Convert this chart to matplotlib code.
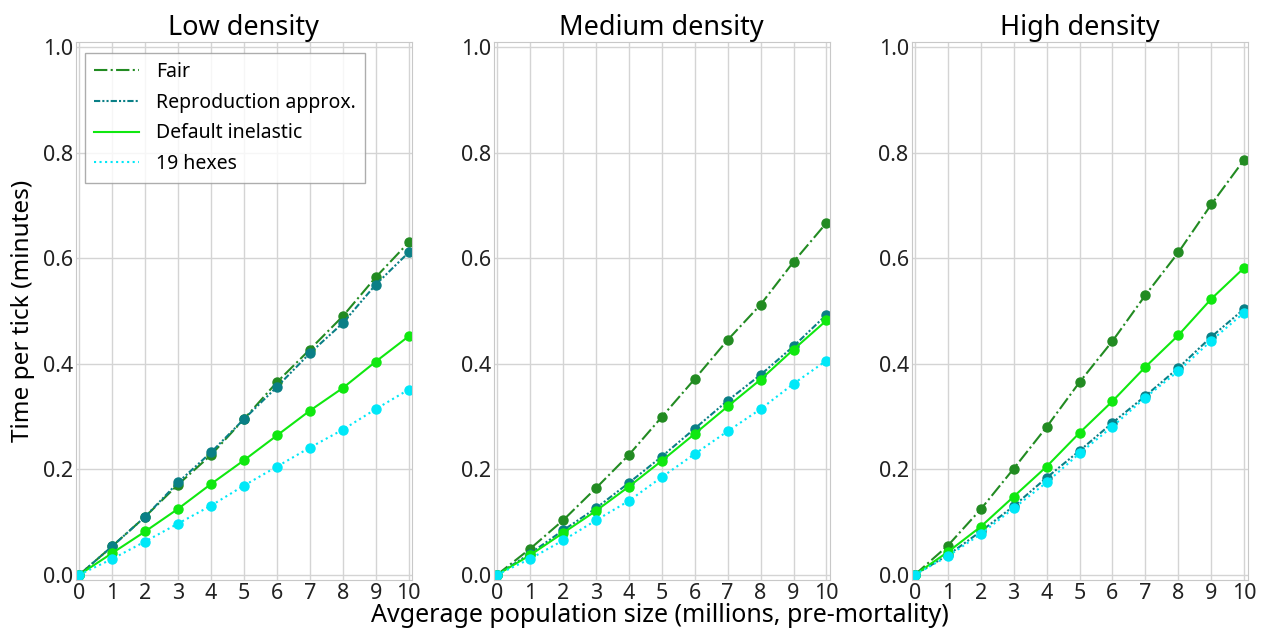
import matplotlib
matplotlib.use("Agg")
import matplotlib.pyplot as plt
from matplotlib.lines import Line2D
import numpy as np

plt.rcParams["font.family"] = ["Noto Sans", "DejaVu Sans"]

# population size (millions, pre-mortality)
pop = np.arange(0, 11)

panels = ["Low density", "Medium density", "High density"]
series = ["Fair", "Reproduction approx.", "Default inelastic", "19 hexes"]

# time per tick (minutes), one list per panel
fair = [
    [0.0, 0.054, 0.110, 0.171, 0.227, 0.295, 0.365, 0.427, 0.490, 0.564, 0.630],
    [0.0, 0.049, 0.103, 0.164, 0.227, 0.299, 0.371, 0.445, 0.512, 0.593, 0.667],
    [0.0, 0.055, 0.124, 0.201, 0.280, 0.365, 0.443, 0.530, 0.611, 0.702, 0.787],
]
repro = [
    [0.0, 0.054, 0.110, 0.175, 0.232, 0.295, 0.356, 0.420, 0.477, 0.550, 0.611],
    [0.0, 0.040, 0.084, 0.126, 0.174, 0.224, 0.277, 0.330, 0.379, 0.433, 0.493],
    [0.0, 0.037, 0.082, 0.130, 0.184, 0.235, 0.288, 0.339, 0.392, 0.451, 0.504],
]
default = [
    [0.0, 0.041, 0.082, 0.125, 0.172, 0.217, 0.264, 0.311, 0.354, 0.404, 0.452],
    [0.0, 0.037, 0.079, 0.121, 0.167, 0.216, 0.267, 0.319, 0.370, 0.427, 0.482],
    [0.0, 0.043, 0.091, 0.148, 0.205, 0.269, 0.329, 0.394, 0.454, 0.523, 0.582],
]
hexes19 = [
    [0.0, 0.030, 0.063, 0.097, 0.131, 0.169, 0.205, 0.241, 0.275, 0.314, 0.351],
    [0.0, 0.030, 0.065, 0.103, 0.140, 0.185, 0.229, 0.272, 0.314, 0.362, 0.406],
    [0.0, 0.035, 0.077, 0.126, 0.175, 0.230, 0.281, 0.336, 0.386, 0.444, 0.497],
]

styles = [
    dict(color="#228B22", ls="-."),
    dict(color="#0A7F86", ls=(0, (3, 1, 1, 1, 1, 1))),
    dict(color="#10E810", ls="-"),
    dict(color="#00E8F8", ls=":"),
]

fig = plt.figure(figsize=(12.66, 6.33), dpi=100)
lefts = [0.060, 0.390, 0.720]
axes = [fig.add_axes([l, 0.0837, 0.2654, 0.850]) for l in lefts]

for i, ax in enumerate(axes):
    data = [fair[i], repro[i], default[i], hexes19[i]]
    for name, ys, st in zip(series, data, styles):
        ax.plot(pop, ys, marker="o", ms=6.5, lw=1.5, **st)
    ax.set_xlim(-0.1, 10.1)
    ax.set_ylim(-0.01, 1.01)
    ax.set_xticks(range(0, 11))
    ax.set_yticks([0.0, 0.2, 0.4, 0.6, 0.8, 1.0])
    ax.grid(True, color="#d4d4d4", lw=1)
    ax.set_axisbelow(True)
    for sp in ax.spines.values():
        sp.set_color("#c8c8c8")
    ax.tick_params(length=0, labelsize=15.5, pad=2, colors="#222222")
    ax.set_title(panels[i], fontsize=19.5, pad=5)

axes[0].set_ylabel("Time per tick (minutes)", fontsize=17.5, labelpad=6)

# legend shows line styles only, no markers
handles = [Line2D([], [], lw=1.5, **st) for st in styles]
axes[0].legend(handles, series, loc="upper left", fontsize=14, fancybox=False,
               edgecolor="#999999", handlelength=2.3, labelspacing=0.55,
               borderpad=0.45, handletextpad=0.9, borderaxespad=0.3,
               bbox_to_anchor=(0.01, 0.99))
fig.text(0.521, 0.028, "Avgerage population size (millions, pre-mortality)",
         ha="center", va="center", fontsize=18)

fig.savefig("out.png", dpi=100)
